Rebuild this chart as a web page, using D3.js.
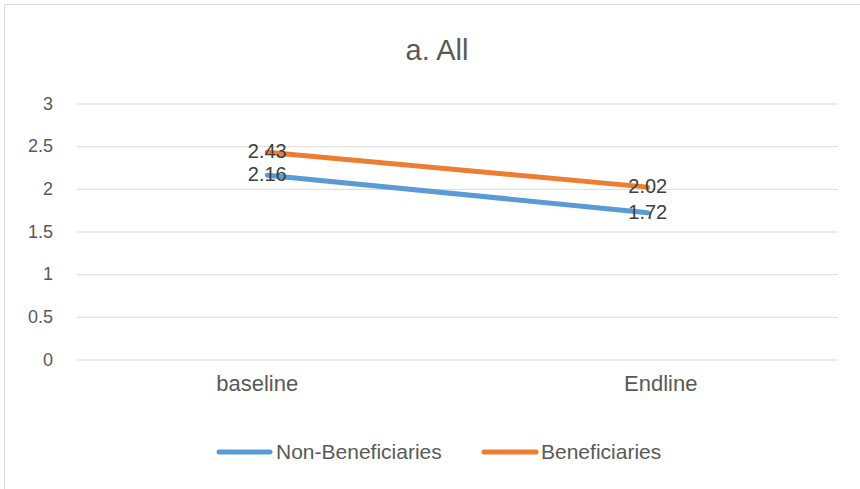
<!DOCTYPE html>
<html>
<head>
<meta charset="utf-8">
<script src="https://cdn.jsdelivr.net/npm/d3@7"></script>
<style>
  html, body { margin: 0; padding: 0; background: #fff; }
  svg { display: block; }
  text { font-family: "Liberation Sans", "DejaVu Sans", sans-serif; }
</style>
</head>
<body>
<svg id="chart" width="860" height="489"></svg>
<script>
// Survey rounds and the mean score per group
const categories = ["baseline", "Endline"];
const nonBeneficiaries = [2.16, 1.72];
const beneficiaries = [2.43, 2.02];
const yTicks = [0, 0.5, 1, 1.5, 2, 2.5, 3];
const seriesNames = ["Non-Beneficiaries", "Beneficiaries"];

const series = [
  { name: seriesNames[0], values: nonBeneficiaries, color: "#5B9BD5" },
  { name: seriesNames[1], values: beneficiaries, color: "#ED7D31" }
];

const svg = d3.select("#chart");
const W = 860, H = 489;

// Chart frame
svg.append("rect")
  .attr("x", 4.5).attr("y", 4.5)
  .attr("width", W + 10).attr("height", H + 10)
  .attr("fill", "#fff").attr("stroke", "#D9D9D9").attr("stroke-width", 1);

const plot = { left: 77, right: 838, top: 103.5, bottom: 359.5 };

const x = d3.scaleBand().domain(categories).range([plot.left, plot.right]);
const y = d3.scaleLinear().domain([0, 3]).range([plot.bottom, plot.top]);

// Title
svg.append("text")
  .attr("x", 437).attr("y", 60)
  .attr("text-anchor", "middle")
  .attr("fill", "#595959")
  .style("font-size", "29px")
  .text("a. All");

// Gridlines and y tick labels
const yAxis = d3.axisLeft(y).tickValues(yTicks).tickSize(-(plot.right - plot.left)).tickPadding(24)
  .tickFormat(d3.format("~g"));
const gy = svg.append("g").attr("transform", `translate(${plot.left},0)`).call(yAxis);
gy.select(".domain").remove();
gy.selectAll(".tick line").attr("stroke", "#D9D9D9").attr("stroke-width", 1);
gy.selectAll(".tick text").attr("fill", "#595959").style("font-size", "18px")
  .style("font-family", "Liberation Sans, sans-serif");

// Category labels
const labelShift = { baseline: -10, Endline: 13 };
svg.append("g").selectAll("text").data(categories).join("text")
  .attr("x", d => x(d) + x.bandwidth() / 2 + labelShift[d])
  .attr("y", plot.bottom + 31)
  .attr("text-anchor", "middle")
  .attr("fill", "#595959")
  .style("font-size", "22px")
  .text(d => d);

// Series lines
const line = d3.line()
  .x((d, i) => x(categories[i]) + x.bandwidth() / 2)
  .y(d => y(d));

svg.append("g").selectAll("path").data(series).join("path")
  .attr("d", s => line(s.values))
  .attr("fill", "none")
  .attr("stroke", s => s.color)
  .attr("stroke-width", 5)
  .attr("stroke-linecap", "round");

// Data labels
series.forEach(s => {
  svg.append("g").selectAll("text").data(s.values).join("text")
    .attr("x", (d, i) => x(categories[i]) + x.bandwidth() / 2)
    .attr("y", d => y(d) + 6)
    .attr("text-anchor", "middle")
    .attr("fill", "#404040")
    .style("font-size", "20px")
    .text(d => d3.format(".2f")(d));
});

// Legend
const legendItems = [
  { s: series[0], x0: 219, x1: 270, tx: 276 },
  { s: series[1], x0: 484, x1: 536, tx: 541 }
];
const lg = svg.append("g");
legendItems.forEach(it => {
  lg.append("line")
    .attr("x1", it.x0).attr("x2", it.x1)
    .attr("y1", 452).attr("y2", 452)
    .attr("stroke", it.s.color).attr("stroke-width", 5).attr("stroke-linecap", "round");
  lg.append("text")
    .attr("x", it.tx).attr("y", 459)
    .attr("fill", "#595959")
    .style("font-size", "21px")
    .text(it.s.name);
});
</script>
</body>
</html>
